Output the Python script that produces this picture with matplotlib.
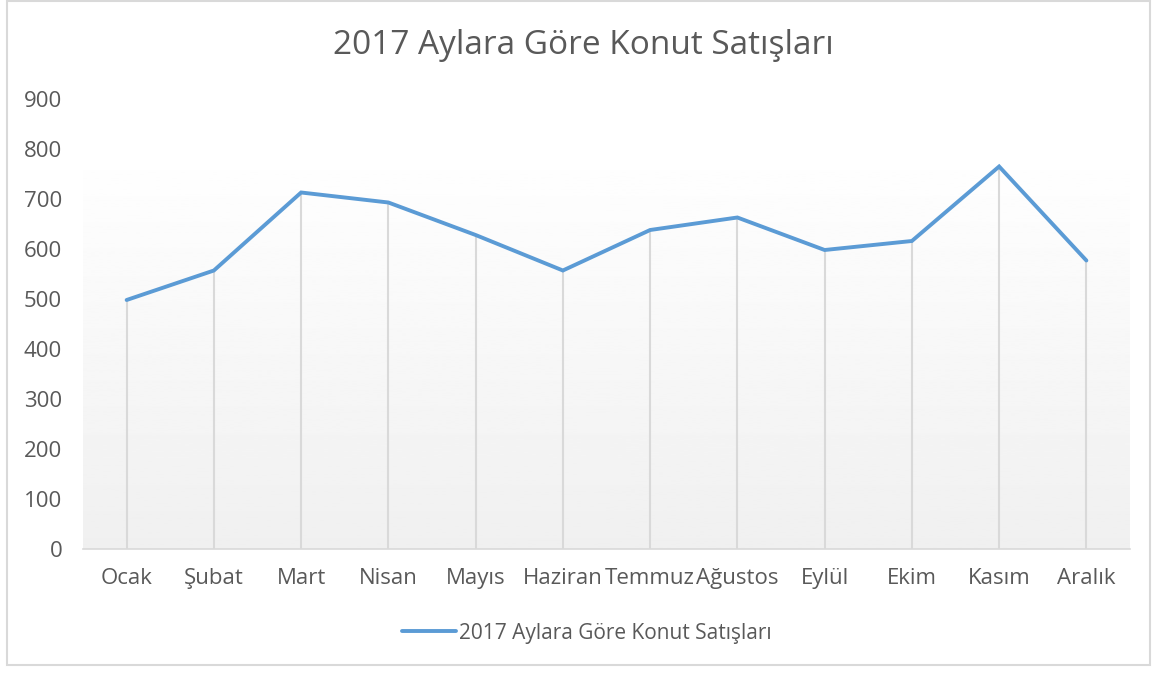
import matplotlib
matplotlib.use("Agg")
import matplotlib.pyplot as plt
import numpy as np
from matplotlib.patches import Rectangle

plt.rcParams['font.family'] = ['Open Sans', 'DejaVu Sans']

months = ["Ocak", "Şubat", "Mart", "Nisan", "Mayıs", "Haziran",
          "Temmuz", "Ağustos", "Eylül", "Ekim", "Kasım", "Aralık"]
sales = [498, 557, 713, 693, 628, 557, 638, 663, 598, 616, 765, 577]
series_name = "2017 Aylara Göre Konut Satışları"
yticks = [0, 100, 200, 300, 400, 500, 600, 700, 800, 900]

text_col = "#595959"
line_col = "#5b9bd5"
grid_col = "#d9d9d9"

fig = plt.figure(figsize=(11.58, 6.75), dpi=100)
ax = fig.add_axes([83 / 1158, 1 - 549 / 675, 1047 / 1158, 450 / 675])

x = np.arange(len(months))

# gradient background of plot area (white at top -> light gray at bottom)
grad = np.linspace(0.94, 0.998, 256).reshape(-1, 1)
ax.imshow(grad, cmap="gray", vmin=0, vmax=1, origin="lower", aspect="auto",
          extent=[-0.5, len(months) - 0.5, 0, 784], zorder=0)

# drop lines
ax.vlines(x, 0, sales, colors=grid_col, linewidth=1.5, zorder=1)
ax.plot(x, sales, color=line_col, linewidth=2.8, solid_capstyle="round",
        solid_joinstyle="miter", label=series_name, zorder=3)

ax.set_xlim(-0.5, len(months) - 0.5)
ax.set_ylim(0, 900)
ax.set_yticks(yticks)
ax.set_xticks(x)
ax.set_xticklabels(months)
ax.tick_params(axis="both", length=0, labelsize=16, labelcolor=text_col)
ax.tick_params(axis="y", pad=15)
ax.tick_params(axis="x", pad=14)
for s in ["top", "right", "left"]:
    ax.spines[s].set_visible(False)
ax.spines["bottom"].set_color(grid_col)
ax.spines["bottom"].set_linewidth(1.2)
ax.spines["bottom"].set_zorder(2)

fig.text(583 / 1158, 1 - 45 / 675, series_name, ha="center", va="center",
         fontsize=24, color=text_col)

leg = ax.legend(loc="center", bbox_to_anchor=(587 / 1158, 1 - 633 / 675),
                bbox_transform=fig.transFigure, frameon=False, fontsize=15,
                handlelength=2.6, handletextpad=0.15)
for t in leg.get_texts():
    t.set_color(text_col)

# chart border
fig.patches.append(Rectangle((7 / 1158, 10 / 675), 1143 / 1158, 664 / 675,
                             transform=fig.transFigure, fill=False,
                             edgecolor=grid_col, linewidth=1.5))

fig.savefig("out.png", dpi=100)
